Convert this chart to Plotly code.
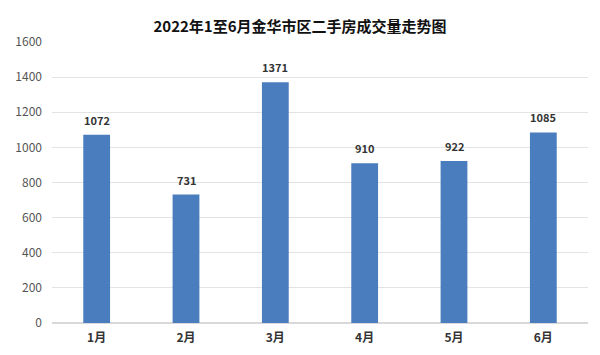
import plotly.graph_objects as go

months = ["1月", "2月", "3月", "4月", "5月", "6月"]
volumes = [1072, 731, 1371, 910, 922, 1085]
y_ticks = [0, 200, 400, 600, 800, 1000, 1200, 1400, 1600]
title = "2022年1至6月金华市区二手房成交量走势图"

font = "Noto Sans CJK SC"

fig = go.Figure(go.Bar(
    x=months, y=volumes,
    marker=dict(color="#4a7dbd", line=dict(width=0)),
    cliponaxis=False,
))
for m, v in zip(months, volumes):
    fig.add_annotation(x=m, y=v, text=str(v), showarrow=False,
                       yanchor="middle", yshift=15,
                       font=dict(family=font, size=11, color="#333333", weight="bold"))
fig.update_layout(
    width=600, height=355,
    margin=dict(l=52, r=12, t=42, b=32),
    paper_bgcolor="white", plot_bgcolor="white",
    bargap=0.70,
    showlegend=False,
    title=dict(text=title, x=0.5, xanchor="center", y=0.925, yanchor="middle",
               font=dict(family=font, size=15, color="#111111", weight="bold")),
    xaxis=dict(showgrid=False, showline=False, ticks="", ticklabelstandoff=6,
               automargin=False,
               tickfont=dict(family=font, size=12, color="#333333", weight="bold")),
    yaxis=dict(range=[0, 1600], tickvals=y_ticks, showgrid=True, gridcolor="#e3e3e3",
               gridwidth=1, zeroline=True, zerolinecolor="#d9d9d9", showline=False,
               ticks="", ticklabelstandoff=9, automargin=False,
               tickfont=dict(family=font, size=12, color="#555555")),
)
fig.write_html("out.html")
